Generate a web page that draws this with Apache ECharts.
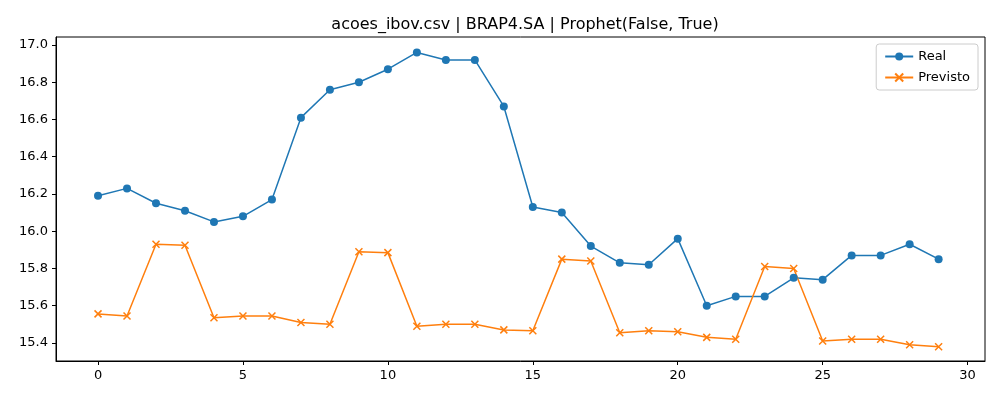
<!DOCTYPE html>
<html>
<head>
<meta charset="utf-8">
<script src="https://cdn.jsdelivr.net/npm/echarts@6/dist/echarts.min.js"></script>
<style>html,body{margin:0;padding:0;background:#fff}#chart{width:1000px;height:400px}</style>
</head>
<body>
<div id="chart"></div>
<script>
const xIdx = Array.from({ length: 30 }, (_, i) => i);
const realVals = [16.19, 16.23, 16.15, 16.11, 16.05, 16.08, 16.17, 16.61, 16.76, 16.80,
  16.87, 16.96, 16.92, 16.92, 16.67, 16.13, 16.10, 15.92, 15.83, 15.82,
  15.96, 15.60, 15.65, 15.65, 15.75, 15.74, 15.87, 15.87, 15.93, 15.85];
const prevVals = [15.556, 15.545, 15.93, 15.925, 15.535, 15.545, 15.545, 15.51, 15.50, 15.89,
  15.885, 15.49, 15.50, 15.50, 15.47, 15.465, 15.85, 15.84, 15.455, 15.465,
  15.46, 15.43, 15.42, 15.81, 15.80, 15.41, 15.42, 15.42, 15.39, 15.38];
const xTicks = [0, 5, 10, 15, 20, 25, 30];
const yTicks = [15.4, 15.6, 15.8, 16.0, 16.2, 16.4, 16.6, 16.8, 17.0];

const font = 'DejaVu Sans';
const chart = echarts.init(document.getElementById('chart'));
chart.setOption({
  animation: false,
  textStyle: { fontFamily: font },
  title: {
    text: 'acoes_ibov.csv | BRAP4.SA | Prophet(False, True)',
    left: 520, top: 12, textAlign: 'center',
    textStyle: { fontFamily: font, fontSize: 16, fontWeight: 'normal', color: '#000' }
  },
  grid: { left: 56, right: 15, top: 37, bottom: 39, show: true, borderColor: '#000', borderWidth: 1 },
  legend: {
    orient: 'vertical', right: 22, top: 44,
    borderColor: '#ccc', borderWidth: 1, borderRadius: 3, padding: [6, 8],
    itemWidth: 28, itemHeight: 10, itemGap: 8,
    textStyle: { fontFamily: font, fontSize: 13, color: '#000' },
    data: ['Real', 'Previsto']
  },
  xAxis: {
    type: 'value', min: -1.45, max: 30.6,
    axisLine: { onZero: false, lineStyle: { color: '#000' } },
    axisTick: { show: true, length: 4, customValues: xTicks, lineStyle: { color: '#000' } },
    axisLabel: { customValues: xTicks, color: '#000', fontSize: 13, margin: 8 },
    splitLine: { show: false }
  },
  yAxis: {
    type: 'value', min: 15.303, max: 17.043,
    axisLine: { show: true, onZero: false, lineStyle: { color: '#000' } },
    axisTick: { show: true, length: 4, customValues: yTicks, lineStyle: { color: '#000' } },
    axisLabel: { customValues: yTicks, color: '#000', fontSize: 13, formatter: v => v.toFixed(1) },
    splitLine: { show: false }
  },
  series: [
    {
      name: 'Real', type: 'line', data: xIdx.map((x, i) => [x, realVals[i]]),
      symbol: 'circle', symbolSize: 8,
      lineStyle: { color: '#1f77b4', width: 1.5 }, itemStyle: { color: '#1f77b4' }
    },
    {
      name: 'Previsto', type: 'line', data: xIdx.map((x, i) => [x, prevVals[i]]),
      symbol: 'path://M0,0L10,10M10,0L0,10', symbolSize: 7,
      lineStyle: { color: '#ff7f0e', width: 1.5 },
      itemStyle: { color: 'none', borderColor: '#ff7f0e', borderWidth: 1.5 }
    }
  ]
});
</script>
</body>
</html>
